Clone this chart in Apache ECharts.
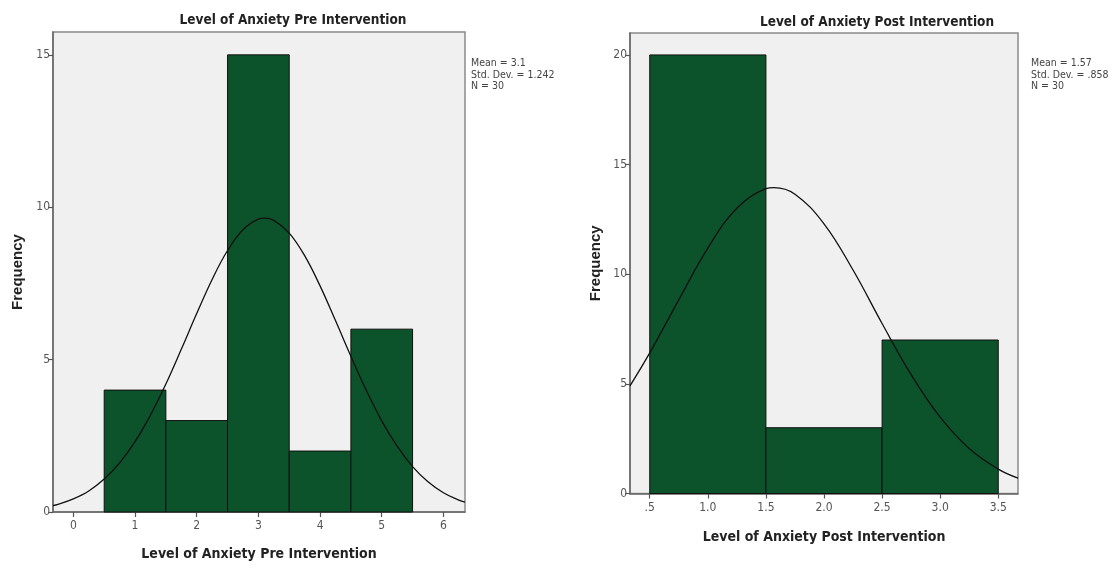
<!DOCTYPE html>
<html>
<head>
<meta charset="utf-8">
<script src="https://cdn.jsdelivr.net/npm/echarts@6/dist/echarts.min.js"></script>
<style>html,body{margin:0;padding:0;background:#fff;}#c{width:1111px;height:568px;}</style>
</head>
<body>
<div id="c"></div>
<script>
// ---- data ----
var preBinStart = [0.5, 1.5, 2.5, 3.5, 4.5];
var preBinEnd   = [1.5, 2.5, 3.5, 4.5, 5.5];
var preCounts   = [4, 3, 15, 2, 6];
var preCurveX   = [-0.33, -0.25, 0, 0.25, 0.5, 0.75, 1, 1.25, 1.5, 1.75, 2, 2.25, 2.5, 2.75, 3, 3.1, 3.25, 3.5, 3.75, 4, 4.25, 4.5, 4.75, 5, 5.25, 5.5, 5.75, 6, 6.25, 6.35];
var preCurveY   = [0.21, 0.25, 0.43, 0.69, 1.08, 1.61, 2.31, 3.18, 4.2, 5.34, 6.51, 7.63, 8.58, 9.26, 9.61, 9.64, 9.57, 9.15, 8.41, 7.42, 6.28, 5.11, 3.99, 2.99, 2.16, 1.49, 0.99, 0.63, 0.39, 0.32];
var preTicks    = [0, 1, 2, 3, 4, 5, 6];
var preYTicks   = [0, 5, 10, 15];
var preStats    = ['Mean = 3.1', 'Std. Dev. = 1.242', 'N = 30'];

var postBinStart = [0.5, 1.5, 2.5];
var postBinEnd   = [1.5, 2.5, 3.5];
var postCounts   = [20, 3, 7];
var postCurveX   = [0.33, 0.5, 0.75, 1, 1.25, 1.5, 1.57, 1.75, 2, 2.25, 2.5, 2.75, 3, 3.25, 3.5, 3.67];
var postCurveY   = [4.91, 6.41, 8.83, 11.19, 13.01, 13.9, 13.95, 13.65, 12.3, 10.19, 7.75, 5.42, 3.48, 2.05, 1.11, 0.7];
var postTicks    = [0.5, 1.0, 1.5, 2.0, 2.5, 3.0, 3.5];
var postYTicks   = [0, 5, 10, 15, 20];
var postStats    = ['Mean = 1.57', 'Std. Dev. = .858', 'N = 30'];

var titles = ['Level of Anxiety Pre Intervention', 'Level of Anxiety Post Intervention'];
var yName = 'Frequency';

// ---- build ----
var FN = '"Liberation Sans Narrow", "DejaVu Sans Condensed", "Liberation Sans", Arial, sans-serif';
var FB = '"Liberation Sans", Arial, sans-serif';
var BAR = '#0c532b';

function zipBins(s, e, c) { return s.map(function (v, i) { return [v, e[i], c[i]]; }); }
function zipXY(x, y) { return x.map(function (v, i) { return [v, y[i]]; }); }

function renderBar(params, api) {
  var p0 = api.coord([api.value(0), 0]);
  var p1 = api.coord([api.value(1), api.value(2)]);
  return {
    type: 'rect',
    shape: { x: p0[0], y: p1[1], width: p1[0] - p0[0], height: p0[1] - p1[1] },
    style: { fill: BAR, stroke: '#111', lineWidth: 1 }
  };
}

function xAxisCfg(idx, min, max, ticks, fmt, name, gap) {
  return {
    type: 'value', gridIndex: idx, min: min, max: max,
    name: name, nameLocation: 'middle', nameGap: gap,
    nameTextStyle: { fontFamily: FN, fontWeight: 'bold', fontSize: 14, color: '#222' },
    axisLine: { show: true, onZero: false, lineStyle: { color: '#666', width: 1.5 } },
    axisTick: { show: true, length: 5, customValues: ticks, lineStyle: { color: '#555', width: 1.2 } },
    axisLabel: { customValues: ticks, formatter: fmt, fontFamily: FN, fontSize: 12, color: '#555', margin: 8 },
    splitLine: { show: false }
  };
}
function yAxisCfg(idx, max, ticks, gap) {
  return {
    type: 'value', gridIndex: idx, min: 0, max: max,
    name: yName, nameLocation: 'middle', nameGap: gap,
    nameTextStyle: { fontFamily: FB, fontWeight: 'bold', fontSize: 15, color: '#222' },
    axisLine: { show: true, onZero: false, lineStyle: { color: '#666', width: 1.5 } },
    axisTick: { show: true, length: 5, customValues: ticks, lineStyle: { color: '#555', width: 1.2 } },
    axisLabel: { customValues: ticks, fontFamily: FN, fontSize: 12, color: '#555', margin: 3 },
    splitLine: { show: false }
  };
}

function statsGraphic(x, y, lines) {
  return lines.map(function (t, i) {
    return { type: 'text', left: x, top: y + i * 11.5, style: { text: t, fontFamily: FN, fontSize: 10.5, fill: '#444' } };
  });
}

var chart = echarts.init(document.getElementById('c'), null, { renderer: 'canvas' });
chart.setOption({
  animation: false,
  backgroundColor: '#fff',
  title: [
    { text: titles[0], left: 288, top: 8, textAlign: 'center', textStyle: { fontFamily: FN, fontWeight: 'bold', fontSize: 13.5, color: '#222' } },
    { text: titles[1], left: 872, top: 10, textAlign: 'center', textStyle: { fontFamily: FN, fontWeight: 'bold', fontSize: 13.5, color: '#222' } }
  ],
  grid: [
    { left: 53, top: 32, width: 412, height: 480, show: true, backgroundColor: '#f0f0f0', borderColor: '#8a8a8a', borderWidth: 1.5 },
    { left: 630, top: 33, width: 388, height: 460.5, show: true, backgroundColor: '#f0f0f0', borderColor: '#8a8a8a', borderWidth: 1.5 }
  ],
  xAxis: [
    xAxisCfg(0, -0.33, 6.35, preTicks, function (v) { return String(Math.round(v)); }, titles[0], 35),
    xAxisCfg(1, 0.33, 3.67, postTicks, function (v) { var s = v.toFixed(1); return s.charAt(0) === '0' ? s.slice(1) : s; }, titles[1], 37)
  ],
  yAxis: [
    yAxisCfg(0, 15.75, preYTicks, 28),
    yAxisCfg(1, 21, postYTicks, 27)
  ],
  graphic: statsGraphic(471, 58, preStats).concat(statsGraphic(1031, 58, postStats)),
  series: [
    { type: 'custom', xAxisIndex: 0, yAxisIndex: 0, renderItem: renderBar, encode: { x: [0, 1], y: 2 }, data: zipBins(preBinStart, preBinEnd, preCounts), z: 2 },
    { type: 'line', xAxisIndex: 0, yAxisIndex: 0, data: zipXY(preCurveX, preCurveY), smooth: 0.4, showSymbol: false, symbol: 'none', lineStyle: { color: '#111', width: 1.3 }, z: 5, silent: true },
    { type: 'custom', xAxisIndex: 1, yAxisIndex: 1, renderItem: renderBar, encode: { x: [0, 1], y: 2 }, data: zipBins(postBinStart, postBinEnd, postCounts), z: 2 },
    { type: 'line', xAxisIndex: 1, yAxisIndex: 1, data: zipXY(postCurveX, postCurveY), smooth: 0.4, showSymbol: false, symbol: 'none', lineStyle: { color: '#111', width: 1.3 }, z: 5, silent: true }
  ]
});
</script>
</body>
</html>
